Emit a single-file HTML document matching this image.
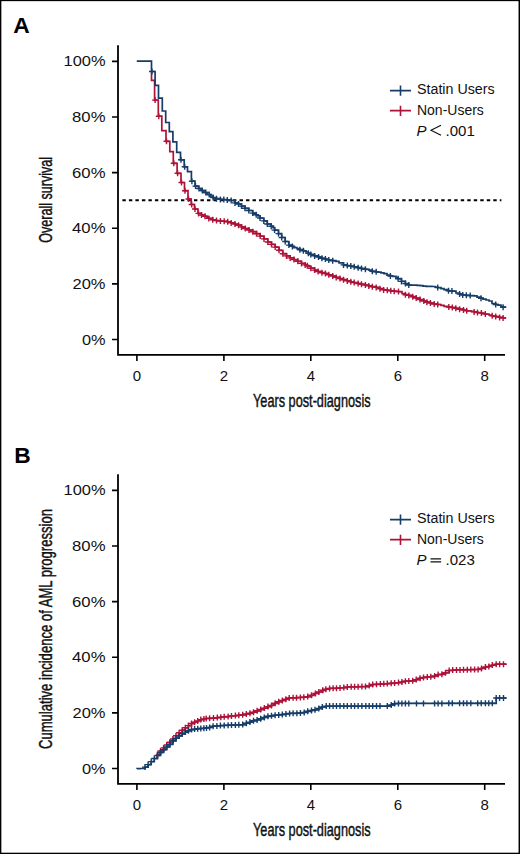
<!DOCTYPE html>
<html><head><meta charset="utf-8"><style>
html,body{margin:0;padding:0;background:#fff;}
body{width:520px;height:854px;overflow:hidden;position:relative;}

svg{position:absolute;left:0;top:0;}
text{font-family:"Liberation Sans",sans-serif;fill:#111;}
.tk{font-size:15px;}
.ttl{font-size:18.3px;stroke:#111;stroke-width:0.45px;}
.lg{font-size:14px;}
.pl{font-size:22.8px;font-weight:bold;fill:#000;}
</style></head><body>
<svg width="520" height="854" viewBox="0 0 520 854">
<rect x="0" y="1" width="520" height="1" fill="#000" fill-opacity="0.15"/><rect x="0" y="852" width="520" height="1" fill="#000" fill-opacity="0.3"/><rect x="1" y="0" width="1" height="854" fill="#000" fill-opacity="0.35"/><rect x="518" y="0" width="1" height="854" fill="#000" fill-opacity="0.45"/><rect x="0" y="0" width="520" height="1" fill="#000"/><rect x="0" y="853" width="520" height="1" fill="#000"/><rect x="0" y="0" width="1" height="854" fill="#000"/><rect x="519" y="0" width="1" height="854" fill="#000"/>
<path d="M118 45.2V354.8H505" fill="none" stroke="#000" stroke-width="1.8"/>
<path d="M112 339.5H118M112 283.9H118M112 228.3H118M112 172.6H118M112 117.0H118M112 61.4H118M136.9 355.0V361.0M223.9 355.0V361.0M310.8 355.0V361.0M397.8 355.0V361.0M484.7 355.0V361.0" fill="none" stroke="#000" stroke-width="1.6"/>
<text x="81.9" y="344.6" class="tk" textLength="23.6" lengthAdjust="spacingAndGlyphs">0%</text>
<text x="72.5" y="289.0" class="tk" textLength="33.0" lengthAdjust="spacingAndGlyphs">20%</text>
<text x="72.1" y="233.4" class="tk" textLength="33.4" lengthAdjust="spacingAndGlyphs">40%</text>
<text x="72.1" y="177.7" class="tk" textLength="33.4" lengthAdjust="spacingAndGlyphs">60%</text>
<text x="72.1" y="122.1" class="tk" textLength="33.4" lengthAdjust="spacingAndGlyphs">80%</text>
<text x="63.5" y="65.5" class="tk" textLength="42.0" lengthAdjust="spacingAndGlyphs">100%</text>
<text x="136.9" y="380.7" text-anchor="middle" class="tk">0</text>
<text x="223.9" y="380.7" text-anchor="middle" class="tk">2</text>
<text x="310.8" y="380.7" text-anchor="middle" class="tk">4</text>
<text x="397.8" y="380.7" text-anchor="middle" class="tk">6</text>
<text x="484.7" y="380.7" text-anchor="middle" class="tk">8</text>
<text x="253" y="407.0" class="ttl" textLength="117.6" lengthAdjust="spacingAndGlyphs">Years post-diagnosis</text>
<path d="M118 474.2V783.8H505" fill="none" stroke="#000" stroke-width="1.8"/>
<path d="M112 768.5H118M112 712.9H118M112 657.3H118M112 601.6H118M112 546.0H118M112 490.4H118M136.9 784.0V790.0M223.9 784.0V790.0M310.8 784.0V790.0M397.8 784.0V790.0M484.7 784.0V790.0" fill="none" stroke="#000" stroke-width="1.6"/>
<text x="81.9" y="773.6" class="tk" textLength="23.6" lengthAdjust="spacingAndGlyphs">0%</text>
<text x="72.5" y="718.0" class="tk" textLength="33.0" lengthAdjust="spacingAndGlyphs">20%</text>
<text x="72.1" y="662.4" class="tk" textLength="33.4" lengthAdjust="spacingAndGlyphs">40%</text>
<text x="72.1" y="606.7" class="tk" textLength="33.4" lengthAdjust="spacingAndGlyphs">60%</text>
<text x="72.1" y="551.1" class="tk" textLength="33.4" lengthAdjust="spacingAndGlyphs">80%</text>
<text x="63.5" y="494.5" class="tk" textLength="42.0" lengthAdjust="spacingAndGlyphs">100%</text>
<text x="136.9" y="809.7" text-anchor="middle" class="tk">0</text>
<text x="223.9" y="809.7" text-anchor="middle" class="tk">2</text>
<text x="310.8" y="809.7" text-anchor="middle" class="tk">4</text>
<text x="397.8" y="809.7" text-anchor="middle" class="tk">6</text>
<text x="484.7" y="809.7" text-anchor="middle" class="tk">8</text>
<text x="253" y="836.0" class="ttl" textLength="117.6" lengthAdjust="spacingAndGlyphs">Years post-diagnosis</text>
<path d="M122.4 200.2H501.4" stroke="#000" stroke-width="2" stroke-dasharray="3.4 3.107" fill="none"/>
<clipPath id="ca"><rect x="0" y="72.3" width="520" height="300"/></clipPath>
<g clip-path="url(#ca)">
<path d="M136.8 61.2H151.5V80.4H154.6V100.1H158.3V116.2H161.8V130.7H166.0V141.3H169.8V151.7H173.3V163.3H177.1V173.3H181.0V182.5H184.5V190.7H188.0V199.0H191.2V204.5H194.5V209.0H198.0V213.0V213.4H201.5V215.0H205.0V216.3H207.0V217.1H208.8V218.4H212.7V219.8H216.5V220.6H220.4V221.0H224.2V221.3H227.7V221.8H231.2V222.9H235.0V224.1H238.5V225.2H241.5V226.9H245.2V228.5H249.0V230.0H252.8V231.7H256.5V233.7H260.2V236.1H264.0V238.9H267.8V242.0H271.5V244.4H275.2V247.1H279.0V250.3H282.8V253.7H286.5V255.9H290.2V257.9H294.0V259.6H297.8V261.3H301.5V263.4H305.2V264.9H307.3V265.7H309.0V266.5H310.8V268.2H314.6V270.1H318.1V271.5H321.9V272.7H325.4V273.5H327.0V274.0H328.8V274.8H332.7V276.0H336.2V277.4H340.0V278.6H343.5V279.7H347.3V280.9H350.8V281.8H354.2V282.6H358.1V283.5H361.5V284.3H365.4V285.1H368.8V285.9H372.3V286.7H376.2V287.4H378.0V287.9H380.0V288.7H383.6V289.9H387.3V290.3H390.8V290.8H394.2V291.2H396.0V291.3H398.5V291.6H402.0V293.5H405.4V294.7H408.8V295.4H411.0V296.0H412.7V296.7H416.2V298.1H420.0V299.6H423.8V301.0H426.9V302.2H430.4V303.0H432.0V303.4H434.2V304.0H437.7V304.5H441.0V305.4H444.0V306.3H447.0V306.6H448.8V307.0H452.3V307.5H455.8V308.3H459.6V309.2H463.5V310.1H466.7V310.8H471.0V311.4H474.1V311.9H477.5V312.6H481.4V313.1H483.0V313.4H485.3V314.1H489.0V315.0H492.2V315.8H495.7V316.5H498.0V316.9H499.6V317.4H503.1V318.0H506.2" fill="none" stroke="#ad1238" stroke-width="1.70"/>
<path d="M152.1 100.1h6.0M155.1 97.1v6.0M155.8 116.2h6.0M158.8 113.2v6.0M163.5 141.3h6.0M166.5 138.3v6.0M170.8 163.3h6.0M173.8 160.3v6.0M174.6 173.3h6.0M177.6 170.3v6.0M178.5 182.5h6.0M181.5 179.5v6.0M182.0 190.7h6.0M185.0 187.7v6.0M185.5 199.0h6.0M188.5 196.0v6.0M188.7 204.5h6.0M191.7 201.5v6.0M192.0 209.0h6.0M195.0 206.0v6.0M195.5 213.4h6.0M198.5 210.4v6.0M198.5 215.0h6.0M201.5 212.0v6.0M202.0 216.3h6.0M205.0 213.3v6.0M205.8 218.4h6.0M208.8 215.4v6.0M209.7 219.8h6.0M212.7 216.8v6.0M213.5 220.6h6.0M216.5 217.6v6.0M217.4 221.0h6.0M220.4 218.0v6.0M221.2 221.3h6.0M224.2 218.3v6.0M224.7 221.8h6.0M227.7 218.8v6.0M228.2 222.9h6.0M231.2 219.9v6.0M232.0 224.1h6.0M235.0 221.1v6.0M235.5 225.2h6.0M238.5 222.2v6.0M238.5 226.9h6.0M241.5 223.9v6.0M242.2 228.5h6.0M245.2 225.5v6.0M246.0 230.0h6.0M249.0 227.0v6.0M249.8 231.7h6.0M252.8 228.7v6.0M253.5 233.7h6.0M256.5 230.7v6.0M257.2 236.1h6.0M260.2 233.1v6.0M261.0 238.9h6.0M264.0 235.9v6.0M264.8 242.0h6.0M267.8 239.0v6.0M268.5 244.4h6.0M271.5 241.4v6.0M272.2 247.1h6.0M275.2 244.1v6.0M276.0 250.3h6.0M279.0 247.3v6.0M279.8 253.7h6.0M282.8 250.7v6.0M283.5 255.9h6.0M286.5 252.9v6.0M287.2 257.9h6.0M290.2 254.9v6.0M291.0 259.6h6.0M294.0 256.6v6.0M294.8 261.3h6.0M297.8 258.3v6.0M298.5 263.4h6.0M301.5 260.4v6.0M302.2 264.9h6.0M305.2 261.9v6.0M304.3 265.7h6.0M307.3 262.7v6.0M307.8 268.2h6.0M310.8 265.2v6.0M311.6 270.1h6.0M314.6 267.1v6.0M315.1 271.5h6.0M318.1 268.5v6.0M318.9 272.7h6.0M321.9 269.7v6.0M322.4 273.5h6.0M325.4 270.5v6.0M325.8 274.8h6.0M328.8 271.8v6.0M329.7 276.0h6.0M332.7 273.0v6.0M333.2 277.4h6.0M336.2 274.4v6.0M337.0 278.6h6.0M340.0 275.6v6.0M340.5 279.7h6.0M343.5 276.7v6.0M344.3 280.9h6.0M347.3 277.9v6.0M347.8 281.8h6.0M350.8 278.8v6.0M351.2 282.6h6.0M354.2 279.6v6.0M355.1 283.5h6.0M358.1 280.5v6.0M358.5 284.3h6.0M361.5 281.3v6.0M362.4 285.1h6.0M365.4 282.1v6.0M365.8 285.9h6.0M368.8 282.9v6.0M369.3 286.7h6.0M372.3 283.7v6.0M373.2 287.4h6.0M376.2 284.4v6.0M377.0 288.7h6.0M380.0 285.7v6.0M380.6 289.9h6.0M383.6 286.9v6.0M384.3 290.3h6.0M387.3 287.3v6.0M387.8 290.8h6.0M390.8 287.8v6.0M391.2 291.2h6.0M394.2 288.2v6.0M395.5 291.6h6.0M398.5 288.6v6.0M402.4 294.7h6.0M405.4 291.7v6.0M405.8 295.4h6.0M408.8 292.4v6.0M409.7 296.7h6.0M412.7 293.7v6.0M413.2 298.1h6.0M416.2 295.1v6.0M417.0 299.6h6.0M420.0 296.6v6.0M420.8 301.0h6.0M423.8 298.0v6.0M423.9 302.2h6.0M426.9 299.2v6.0M427.4 303.0h6.0M430.4 300.0v6.0M431.2 304.0h6.0M434.2 301.0v6.0M434.7 304.5h6.0M437.7 301.5v6.0M445.8 307.0h6.0M448.8 304.0v6.0M449.3 307.5h6.0M452.3 304.5v6.0M452.8 308.3h6.0M455.8 305.3v6.0M456.6 309.2h6.0M459.6 306.2v6.0M460.5 310.1h6.0M463.5 307.1v6.0M463.7 310.8h6.0M466.7 307.8v6.0M471.1 311.9h6.0M474.1 308.9v6.0M474.5 312.6h6.0M477.5 309.6v6.0M478.4 313.1h6.0M481.4 310.1v6.0M482.3 314.1h6.0M485.3 311.1v6.0M489.2 315.8h6.0M492.2 312.8v6.0M492.7 316.5h6.0M495.7 313.5v6.0M496.6 317.4h6.0M499.6 314.4v6.0M500.1 318.0h6.0M503.1 315.0v6.0" fill="none" stroke="#ad1238" stroke-width="1.40"/>
</g>
<path d="M136.8 61.2H151.5V71.5H155.1V85.3H158.5V98.2H162.3V111.0H165.7V122.5H169.3V131.6H172.9V141.9H176.7V152.3H180.5V159.8H184.2V166.8H187.5V171.6H191.4V181.2H195.0V186.1H198.5V188.5H201.0V190.5H204.0V192.5H207.0V194.5H210.0V195.4V196.1H213.1V197.6H216.5V198.7H220.4V199.4H223.8V199.6H227.3V199.9H231.2V200.5H235.0V202.9H238.5V204.0H241.5V206.1H245.0V208.3H248.8V210.5H252.7V213.1H256.2V214.8H258.0V215.9H260.0V218.0H263.8V220.9H267.3V224.0H271.2V226.2H273.0V227.6H274.6V230.1H278.5V233.6H281.7V237.5H285.2V241.5H288.9V245.1H292.4V246.4H294.0V247.6H297.0V248.6H299.9V249.7H303.4V250.8H306.0V252.0H308.3V253.3H310.8V254.5H314.6V255.9H318.5V257.0H321.9V258.3H325.4V259.1H327.0V259.5H328.8V260.1H332.7V260.7H336.0V261.4H339.0V262.9H343.5V264.9H347.3V265.6H350.8V266.1H354.2V266.8H358.1V267.7H361.5V268.5H365.4V269.3H369.0V270.2H372.3V271.3H376.2V271.8H378.0V272.2H381.0V272.9H384.0V273.7H387.0V275.2H390.4V276.0H393.0V276.4H396.0V277.6H398.1V278.7H401.5V281.4H405.4V283.6H408.8V285.0H411.0V285.1H414.0V285.2H417.0V285.3H420.0V285.6H423.0V286.1H426.0V286.3H429.0V286.4H432.0V286.5H435.0V287.0H437.7V287.6H441.0V288.6H444.0V289.6H448.5V290.8H451.9V291.1H456.0V293.0H459.6V294.0H462.7V295.0H466.3V295.3H468.0V295.4H470.2V295.6H474.0V295.9H477.0V297.1H481.0V298.2H483.0V299.1H486.0V300.0H489.0V301.0H492.0V303.5H495.7V304.5H498.0V305.2H501.0V306.5H503.1V307.2H506.2" fill="none" stroke="#163d68" stroke-width="1.70"/>
<path d="M149.0 71.5h6.0M152.0 68.5v6.0M178.0 159.8h6.0M181.0 156.8v6.0M181.7 166.8h6.0M184.7 163.8v6.0M188.9 181.2h6.0M191.9 178.2v6.0M192.5 186.1h6.0M195.5 183.1v6.0M196.0 188.5h6.0M199.0 185.5v6.0M199.3 190.5h6.0M202.3 187.5v6.0M202.8 192.5h6.0M205.8 189.5v6.0M206.2 194.5h6.0M209.2 191.5v6.0M210.1 197.6h6.0M213.1 194.6v6.0M213.5 198.7h6.0M216.5 195.7v6.0M217.4 199.4h6.0M220.4 196.4v6.0M220.8 199.6h6.0M223.8 196.6v6.0M224.3 199.9h6.0M227.3 196.9v6.0M228.2 200.5h6.0M231.2 197.5v6.0M232.0 202.9h6.0M235.0 199.9v6.0M235.5 204.0h6.0M238.5 201.0v6.0M238.5 206.1h6.0M241.5 203.1v6.0M242.0 208.3h6.0M245.0 205.3v6.0M245.8 210.5h6.0M248.8 207.5v6.0M249.7 213.1h6.0M252.7 210.1v6.0M253.2 214.8h6.0M256.2 211.8v6.0M257.0 218.0h6.0M260.0 215.0v6.0M260.8 220.9h6.0M263.8 217.9v6.0M264.3 224.0h6.0M267.3 221.0v6.0M268.2 226.2h6.0M271.2 223.2v6.0M271.6 230.1h6.0M274.6 227.1v6.0M275.5 233.6h6.0M278.5 230.6v6.0M278.7 237.5h6.0M281.7 234.5v6.0M282.2 241.5h6.0M285.2 238.5v6.0M285.9 245.1h6.0M288.9 242.1v6.0M289.4 246.4h6.0M292.4 243.4v6.0M296.9 249.7h6.0M299.9 246.7v6.0M300.4 250.8h6.0M303.4 247.8v6.0M305.3 253.3h6.0M308.3 250.3v6.0M307.8 254.5h6.0M310.8 251.5v6.0M311.6 255.9h6.0M314.6 252.9v6.0M315.5 257.0h6.0M318.5 254.0v6.0M318.9 258.3h6.0M321.9 255.3v6.0M322.4 259.1h6.0M325.4 256.1v6.0M325.8 260.1h6.0M328.8 257.1v6.0M329.7 260.7h6.0M332.7 257.7v6.0M340.5 264.9h6.0M343.5 261.9v6.0M344.3 265.6h6.0M347.3 262.6v6.0M347.8 266.1h6.0M350.8 263.1v6.0M351.2 266.8h6.0M354.2 263.8v6.0M355.1 267.7h6.0M358.1 264.7v6.0M358.5 268.5h6.0M361.5 265.5v6.0M362.4 269.3h6.0M365.4 266.3v6.0M369.3 271.3h6.0M372.3 268.3v6.0M373.2 271.8h6.0M376.2 268.8v6.0M387.4 276.0h6.0M390.4 273.0v6.0M395.1 278.7h6.0M398.1 275.7v6.0M398.5 281.4h6.0M401.5 278.4v6.0M402.4 283.6h6.0M405.4 280.6v6.0M405.8 285.0h6.0M408.8 282.0v6.0M434.7 287.6h6.0M437.7 284.6v6.0M445.5 290.8h6.0M448.5 287.8v6.0M448.9 291.1h6.0M451.9 288.1v6.0M456.6 294.0h6.0M459.6 291.0v6.0M459.7 295.0h6.0M462.7 292.0v6.0M463.3 295.3h6.0M466.3 292.3v6.0M467.2 295.6h6.0M470.2 292.6v6.0M478.0 298.2h6.0M481.0 295.2v6.0M492.7 304.5h6.0M495.7 301.5v6.0M500.1 307.2h6.0M503.1 304.2v6.0" fill="none" stroke="#163d68" stroke-width="1.40"/>
<clipPath id="cr"><rect x="156.3" y="600" width="360" height="200"/></clipPath>
<g clip-path="url(#cr)">
<path d="M136.9 768.7V768.6H140.0V768.5H143.1V768.4H145.0V767.1H148.1V764.6H151.2V761.6H154.3V758.3H157.4V754.4H160.5V751.0H163.6V747.9H166.7V745.0H169.8V742.3H172.9V739.0H176.0V735.7H179.1V732.8H182.2V730.2H185.3V727.8H188.4V725.6H191.5V723.5H194.6V722.2H197.7V720.9H200.8V719.6H203.9V718.9H206.2V718.5H209.6V718.3H211.3V718.2H213.5V718.1H217.3V717.6H220.8V717.2H224.2V716.8H228.1V716.5H229.9V716.3H231.5V716.0H235.4V715.6H238.8V715.2H242.7V714.8H246.3V714.0H249.9V713.3H251.6V712.9H253.5V712.2H257.1V710.8H260.7V709.5H264.3V708.1H267.9V706.6H271.5V705.4H273.3V704.6H275.1V703.3H278.7V701.7H282.3V700.5H285.8V699.2H289.2V698.0H293.1V697.8H296.5V697.7H298.1V697.5H300.4V697.4H303.8V697.2H307.7V696.6H311.5V695.3H313.6V694.4H315.4V693.4H318.8V692.0H322.7V690.3H325.8V689.2H329.6V688.4H333.1V688.3H336.5V688.2H340.0V687.9H343.8V687.6H347.3V687.0H351.2V686.8H354.6V686.8H358.1V686.7H360.1V686.7H361.9V686.6H365.5V686.6H369.2V685.6H372.7V684.5H376.5V684.3H378.7V684.2H380.4V684.1H383.8V683.8H387.3V683.6H391.2V683.3H394.6V683.0H398.5V682.6H401.9V681.9H403.5V681.5H405.4V681.2H408.8V681.0H412.7V680.8H416.2V679.6H420.0V678.2H423.5V677.5H425.2V677.3H427.3V677.0H430.8V676.7H434.6V676.0H438.1V674.6H441.9V674.3H443.8V674.0H445.5V672.7H449.2V670.5H452.7V670.1H456.5V669.9H460.0V669.9H463.5V669.8H465.5V669.7H467.3V669.7H470.8V669.6H474.6V669.5H478.1V669.4H481.5V668.4H485.4V667.0H488.8V666.4H492.3V665.1H496.2V664.2H499.6V664.2H503.5V664.2H505.8V664.2H506.5" fill="none" stroke="#ad1238" stroke-width="1.70"/>
<path d="M142.0 767.1h6.0M145.0 764.1v6.0M145.1 764.6h6.0M148.1 761.6v6.0M148.2 761.6h6.0M151.2 758.6v6.0M151.3 758.3h6.0M154.3 755.3v6.0M154.4 754.4h6.0M157.4 751.4v6.0M157.5 751.0h6.0M160.5 748.0v6.0M160.6 747.9h6.0M163.6 744.9v6.0M163.7 745.0h6.0M166.7 742.0v6.0M166.8 742.3h6.0M169.8 739.3v6.0M169.9 739.0h6.0M172.9 736.0v6.0M173.0 735.7h6.0M176.0 732.7v6.0M176.1 732.8h6.0M179.1 729.8v6.0M179.2 730.2h6.0M182.2 727.2v6.0M182.3 727.8h6.0M185.3 724.8v6.0M185.4 725.6h6.0M188.4 722.6v6.0M188.5 723.5h6.0M191.5 720.5v6.0M191.6 722.2h6.0M194.6 719.2v6.0M194.7 720.9h6.0M197.7 717.9v6.0M197.8 719.6h6.0M200.8 716.6v6.0M200.9 718.9h6.0M203.9 715.9v6.0M203.2 718.5h6.0M206.2 715.5v6.0M206.6 718.3h6.0M209.6 715.3v6.0M210.5 718.1h6.0M213.5 715.1v6.0M214.3 717.6h6.0M217.3 714.6v6.0M217.8 717.2h6.0M220.8 714.2v6.0M221.2 716.8h6.0M224.2 713.8v6.0M225.1 716.5h6.0M228.1 713.5v6.0M228.5 716.0h6.0M231.5 713.0v6.0M232.4 715.6h6.0M235.4 712.6v6.0M235.8 715.2h6.0M238.8 712.2v6.0M239.7 714.8h6.0M242.7 711.8v6.0M243.3 714.0h6.0M246.3 711.0v6.0M246.9 713.3h6.0M249.9 710.3v6.0M250.5 712.2h6.0M253.5 709.2v6.0M254.1 710.8h6.0M257.1 707.8v6.0M257.7 709.5h6.0M260.7 706.5v6.0M261.3 708.1h6.0M264.3 705.1v6.0M264.9 706.6h6.0M267.9 703.6v6.0M268.5 705.4h6.0M271.5 702.4v6.0M272.1 703.3h6.0M275.1 700.3v6.0M275.7 701.7h6.0M278.7 698.7v6.0M279.3 700.5h6.0M282.3 697.5v6.0M282.8 699.2h6.0M285.8 696.2v6.0M286.2 698.0h6.0M289.2 695.0v6.0M290.1 697.8h6.0M293.1 694.8v6.0M293.5 697.7h6.0M296.5 694.7v6.0M297.4 697.4h6.0M300.4 694.4v6.0M300.8 697.2h6.0M303.8 694.2v6.0M304.7 696.6h6.0M307.7 693.6v6.0M308.5 695.3h6.0M311.5 692.3v6.0M312.4 693.4h6.0M315.4 690.4v6.0M315.8 692.0h6.0M318.8 689.0v6.0M319.7 690.3h6.0M322.7 687.3v6.0M322.8 689.2h6.0M325.8 686.2v6.0M326.6 688.4h6.0M329.6 685.4v6.0M330.1 688.3h6.0M333.1 685.3v6.0M333.5 688.2h6.0M336.5 685.2v6.0M337.0 687.9h6.0M340.0 684.9v6.0M340.8 687.6h6.0M343.8 684.6v6.0M344.3 687.0h6.0M347.3 684.0v6.0M348.2 686.8h6.0M351.2 683.8v6.0M351.6 686.8h6.0M354.6 683.8v6.0M355.1 686.7h6.0M358.1 683.7v6.0M358.9 686.6h6.0M361.9 683.6v6.0M362.5 686.6h6.0M365.5 683.6v6.0M366.2 685.6h6.0M369.2 682.6v6.0M369.7 684.5h6.0M372.7 681.5v6.0M373.5 684.3h6.0M376.5 681.3v6.0M377.4 684.1h6.0M380.4 681.1v6.0M380.8 683.8h6.0M383.8 680.8v6.0M384.3 683.6h6.0M387.3 680.6v6.0M388.2 683.3h6.0M391.2 680.3v6.0M391.6 683.0h6.0M394.6 680.0v6.0M395.5 682.6h6.0M398.5 679.6v6.0M398.9 681.9h6.0M401.9 678.9v6.0M402.4 681.2h6.0M405.4 678.2v6.0M405.8 681.0h6.0M408.8 678.0v6.0M409.7 680.8h6.0M412.7 677.8v6.0M413.2 679.6h6.0M416.2 676.6v6.0M417.0 678.2h6.0M420.0 675.2v6.0M420.5 677.5h6.0M423.5 674.5v6.0M424.3 677.0h6.0M427.3 674.0v6.0M427.8 676.7h6.0M430.8 673.7v6.0M431.6 676.0h6.0M434.6 673.0v6.0M435.1 674.6h6.0M438.1 671.6v6.0M438.9 674.3h6.0M441.9 671.3v6.0M442.5 672.7h6.0M445.5 669.7v6.0M446.2 670.5h6.0M449.2 667.5v6.0M449.7 670.1h6.0M452.7 667.1v6.0M453.5 669.9h6.0M456.5 666.9v6.0M457.0 669.9h6.0M460.0 666.9v6.0M460.5 669.8h6.0M463.5 666.8v6.0M464.3 669.7h6.0M467.3 666.7v6.0M467.8 669.6h6.0M470.8 666.6v6.0M471.6 669.5h6.0M474.6 666.5v6.0M475.1 669.4h6.0M478.1 666.4v6.0M478.5 668.4h6.0M481.5 665.4v6.0M482.4 667.0h6.0M485.4 664.0v6.0M485.8 666.4h6.0M488.8 663.4v6.0M489.3 665.1h6.0M492.3 662.1v6.0M493.2 664.2h6.0M496.2 661.2v6.0M496.6 664.2h6.0M499.6 661.2v6.0M500.5 664.2h6.0M503.5 661.2v6.0" fill="none" stroke="#ad1238" stroke-width="1.40"/>
</g>
<path d="M136.9 768.7V768.6H140.0V768.5H143.1V768.4H145.0V767.1H148.1V764.6H151.2V761.6H154.3V758.5H157.4V755.5H160.5V752.5H163.6V749.7H166.7V747.0H169.8V744.3H172.9V740.8H176.0V738.2H179.1V735.9H182.2V733.8H185.3V732.1H188.4V730.7H191.5V729.6H194.6V729.1H197.7V728.7H200.8V728.5H203.9V728.2H206.5V727.9H209.6V727.4H211.3V726.9H213.1V726.2H216.9V725.9H220.4V725.6H224.2V725.4H228.1V725.2H229.9V725.2H231.5V725.1H235.4V724.9H238.8V724.8H242.7V724.6H246.3V723.2H249.9V722.1H251.6V721.5H253.5V720.7H257.1V719.9H260.7V718.7H264.3V717.4H267.9V716.3H271.5V715.8H273.3V715.5H275.1V715.2H278.7V714.9H282.3V714.5H285.9V713.9H289.6V713.4H293.1V713.3H295.0V713.3H296.9V713.2H300.4V712.9H304.2V712.4H307.7V711.3H311.5V710.4H315.0V709.8H316.7V709.3H318.8V708.5H322.3V707.0H326.2V706.1H329.6V706.1H333.1V706.1H336.5V706.1H340.0V706.1H343.8V706.1H347.3V706.1H351.2V706.1H354.6V706.1H358.1V706.1H360.1V706.1H361.9V706.1H365.8V706.1H369.2V706.1H372.7V706.1H376.5V706.1H380.0V706.1H381.8V706.1H384.9V706.1H387.3V706.1H391.2V705.0H394.6V703.6H398.5V703.4H401.9V703.4H403.5V703.4H405.4V703.4H408.8V703.4H412.8V703.4H416.5V703.4H419.0V703.4H423.5V703.4H425.2V703.4H428.3V703.4H431.4V703.4H434.6V703.4H438.1V703.4H441.9V703.4H443.8V703.4H446.9V703.3H448.8V703.3H452.3V703.3H456.2V703.3H459.6V703.3H463.5V703.3H466.9V703.3H468.6V703.3H470.8V703.3H474.8V703.3H477.7V703.3H481.2V703.3H485.4V703.3H488.8V703.3H492.3V703.3H496.2V698.0H499.6V698.0H503.5V698.0H505.8V698.0H506.5" fill="none" stroke="#163d68" stroke-width="1.70"/>
<path d="M142.0 767.1h6.0M145.0 764.1v6.0M145.1 764.6h6.0M148.1 761.6v6.0M148.2 761.6h6.0M151.2 758.6v6.0M151.3 758.5h6.0M154.3 755.5v6.0M154.4 755.5h6.0M157.4 752.5v6.0M157.5 752.5h6.0M160.5 749.5v6.0M160.6 749.7h6.0M163.6 746.7v6.0M163.7 747.0h6.0M166.7 744.0v6.0M166.8 744.3h6.0M169.8 741.3v6.0M169.9 740.8h6.0M172.9 737.8v6.0M173.0 738.2h6.0M176.0 735.2v6.0M176.1 735.9h6.0M179.1 732.9v6.0M179.2 733.8h6.0M182.2 730.8v6.0M182.3 732.1h6.0M185.3 729.1v6.0M185.4 730.7h6.0M188.4 727.7v6.0M188.5 729.6h6.0M191.5 726.6v6.0M191.6 729.1h6.0M194.6 726.1v6.0M194.7 728.7h6.0M197.7 725.7v6.0M197.8 728.5h6.0M200.8 725.5v6.0M200.9 728.2h6.0M203.9 725.2v6.0M203.5 727.9h6.0M206.5 724.9v6.0M206.6 727.4h6.0M209.6 724.4v6.0M210.1 726.2h6.0M213.1 723.2v6.0M213.9 725.9h6.0M216.9 722.9v6.0M217.4 725.6h6.0M220.4 722.6v6.0M221.2 725.4h6.0M224.2 722.4v6.0M225.1 725.2h6.0M228.1 722.2v6.0M228.5 725.1h6.0M231.5 722.1v6.0M232.4 724.9h6.0M235.4 721.9v6.0M235.8 724.8h6.0M238.8 721.8v6.0M239.7 724.6h6.0M242.7 721.6v6.0M243.3 723.2h6.0M246.3 720.2v6.0M246.9 722.1h6.0M249.9 719.1v6.0M250.5 720.7h6.0M253.5 717.7v6.0M254.1 719.9h6.0M257.1 716.9v6.0M257.7 718.7h6.0M260.7 715.7v6.0M261.3 717.4h6.0M264.3 714.4v6.0M264.9 716.3h6.0M267.9 713.3v6.0M268.5 715.8h6.0M271.5 712.8v6.0M272.1 715.2h6.0M275.1 712.2v6.0M275.7 714.9h6.0M278.7 711.9v6.0M279.3 714.5h6.0M282.3 711.5v6.0M282.9 713.9h6.0M285.9 710.9v6.0M286.6 713.4h6.0M289.6 710.4v6.0M290.1 713.3h6.0M293.1 710.3v6.0M293.9 713.2h6.0M296.9 710.2v6.0M297.4 712.9h6.0M300.4 709.9v6.0M301.2 712.4h6.0M304.2 709.4v6.0M304.7 711.3h6.0M307.7 708.3v6.0M308.5 710.4h6.0M311.5 707.4v6.0M312.0 709.8h6.0M315.0 706.8v6.0M315.8 708.5h6.0M318.8 705.5v6.0M319.3 707.0h6.0M322.3 704.0v6.0M323.2 706.1h6.0M326.2 703.1v6.0M326.6 706.1h6.0M329.6 703.1v6.0M330.1 706.1h6.0M333.1 703.1v6.0M333.5 706.1h6.0M336.5 703.1v6.0M337.0 706.1h6.0M340.0 703.1v6.0M340.8 706.1h6.0M343.8 703.1v6.0M344.3 706.1h6.0M347.3 703.1v6.0M348.2 706.1h6.0M351.2 703.1v6.0M351.6 706.1h6.0M354.6 703.1v6.0M355.1 706.1h6.0M358.1 703.1v6.0M358.9 706.1h6.0M361.9 703.1v6.0M362.8 706.1h6.0M365.8 703.1v6.0M366.2 706.1h6.0M369.2 703.1v6.0M369.7 706.1h6.0M372.7 703.1v6.0M373.5 706.1h6.0M376.5 703.1v6.0M377.0 706.1h6.0M380.0 703.1v6.0M384.3 706.1h6.0M387.3 703.1v6.0M388.2 705.0h6.0M391.2 702.0v6.0M391.6 703.6h6.0M394.6 700.6v6.0M395.5 703.4h6.0M398.5 700.4v6.0M398.9 703.4h6.0M401.9 700.4v6.0M402.4 703.4h6.0M405.4 700.4v6.0M405.8 703.4h6.0M408.8 700.4v6.0M413.5 703.4h6.0M416.5 700.4v6.0M420.5 703.4h6.0M423.5 700.4v6.0M431.6 703.4h6.0M434.6 700.4v6.0M435.1 703.4h6.0M438.1 700.4v6.0M438.9 703.4h6.0M441.9 700.4v6.0M445.8 703.3h6.0M448.8 700.3v6.0M449.3 703.3h6.0M452.3 700.3v6.0M456.6 703.3h6.0M459.6 700.3v6.0M460.5 703.3h6.0M463.5 700.3v6.0M463.9 703.3h6.0M466.9 700.3v6.0M467.8 703.3h6.0M470.8 700.3v6.0M474.7 703.3h6.0M477.7 700.3v6.0M478.2 703.3h6.0M481.2 700.3v6.0M482.4 703.3h6.0M485.4 700.3v6.0M485.8 703.3h6.0M488.8 700.3v6.0M489.3 703.3h6.0M492.3 700.3v6.0M493.2 698.0h6.0M496.2 695.0v6.0M496.6 698.0h6.0M499.6 695.0v6.0M500.5 698.0h6.0M503.5 695.0v6.0" fill="none" stroke="#163d68" stroke-width="1.40"/>
<path d="M390 90.6H411M400.5 85.4V95.8" stroke="#163d68" stroke-width="1.6" fill="none"/>
<path d="M390 110.6H411M400.5 105.7V116.0" stroke="#ad1238" stroke-width="1.6" fill="none"/>
<text x="417" y="94.2" class="lg" textLength="77.6" lengthAdjust="spacingAndGlyphs">Statin Users</text>
<text x="417" y="114.7" class="lg" textLength="66.8" lengthAdjust="spacingAndGlyphs">Non-Users</text>
<text x="416.4" y="135.5" class="lg" font-style="italic" style="font-size:15px">P</text>
<path d="M441 125.3L431 130.3L441 135.3" stroke="#111" stroke-width="1.15" fill="none"/>
<text x="445.5" y="135.5" class="lg" textLength="29.3" lengthAdjust="spacingAndGlyphs">.001</text>
<path d="M390 519.6H411M400.5 514.4V524.8" stroke="#163d68" stroke-width="1.6" fill="none"/>
<path d="M390 539.6H411M400.5 534.7V545.0" stroke="#ad1238" stroke-width="1.6" fill="none"/>
<text x="417" y="523.2" class="lg" textLength="77.6" lengthAdjust="spacingAndGlyphs">Statin Users</text>
<text x="417" y="543.7" class="lg" textLength="66.8" lengthAdjust="spacingAndGlyphs">Non-Users</text>
<text x="416.4" y="564.5" class="lg" font-style="italic" style="font-size:15px">P</text>
<path d="M430.5 558.8H441.1M430.5 561.8H441.1" stroke="#111" stroke-width="1.25" fill="none"/>
<text x="445.5" y="564.5" class="lg" textLength="29.3" lengthAdjust="spacingAndGlyphs">.023</text>
<text x="13.2" y="32.9" class="pl">A</text>
<text x="14.2" y="462.9" class="pl">B</text>
<text transform="translate(52.3 242.8) rotate(-90)" class="ttl" textLength="85.8" lengthAdjust="spacingAndGlyphs">Overall survival</text>
<text transform="translate(52.4 749) rotate(-90)" class="ttl" textLength="240" lengthAdjust="spacingAndGlyphs">Cumulative incidence of AML progression</text>
</svg>
</body></html>
